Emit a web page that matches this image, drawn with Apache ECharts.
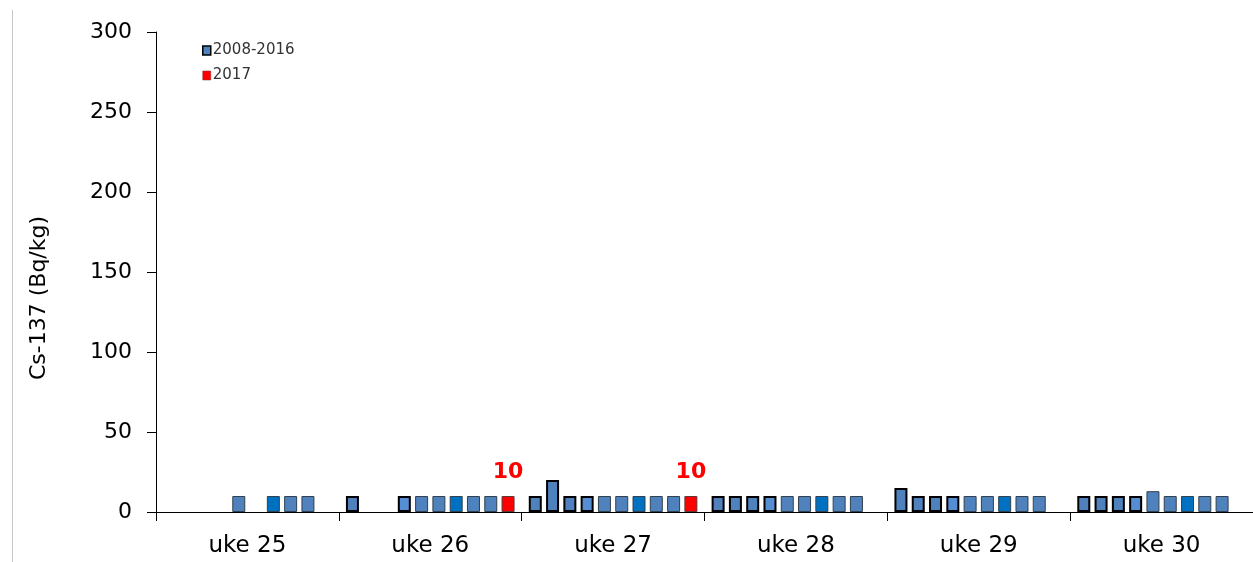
<!DOCTYPE html>
<html>
<head>
<meta charset="utf-8">
<script src="https://cdn.jsdelivr.net/npm/echarts@6/dist/echarts.min.js"></script>
<style>
html,body{margin:0;padding:0;background:#fff;}
#c{width:1253px;height:562px;}
</style>
</head>
<body>
<div id="c"></div>
<script>
const categories = ['uke 25', 'uke 26', 'uke 27', 'uke 28', 'uke 29', 'uke 30'];
const years = ['2008', '2009', '2010', '2011', '2012', '2013', '2014', '2015', '2016', '2017'];
const yTicks = [0, 50, 100, 150, 200, 250, 300];
const v2008 = [null, 10, 10, 10, 15, 10];
const v2009 = [null, null, 20, 10, 10, 10];
const v2010 = [null, null, 10, 10, 10, 10];
const v2011 = [null, 10, 10, 10, 10, 10];
const v2012 = [10, 10, 10, 10, 10, 13];
const v2013 = [null, 10, 10, 10, 10, 10];
const v2014 = [10, 10, 10, 10, 10, 10];
const v2015 = [10, 10, 10, 10, 10, 10];
const v2016 = [10, 10, 10, 10, 10, 10];
const v2017 = [null, 10, 10, null, null, null];
const legendNames = ['2008-2016', '2017'];
const yTitle = 'Cs-137 (Bq/kg)';

const values = [v2008, v2009, v2010, v2011, v2012, v2013, v2014, v2015, v2016, v2017];

const BLUE = '#4F81BD', LIGHT = '#558ED5', DARK = '#0070C0', RED = '#FF0000';
function styleFor(i) {
  if (i === 9) return { color: RED, borderColor: '#5a3a3a', borderWidth: 1 };
  if (i <= 3) return { color: i === 3 ? LIGHT : BLUE, borderColor: '#000', borderWidth: 2 };
  return { color: i === 6 ? DARK : BLUE, borderColor: '#33404d', borderWidth: 1 };
}

const series = values.map((arr, i) => ({
  name: i === 9 ? legendNames[1] : legendNames[0],
  type: 'bar',
  data: arr,
  barWidth: 13,
  barGap: '33%',
  itemStyle: styleFor(i),
  label: i === 9 ? {
    show: true, position: 'top', distance: 13,
    color: RED, fontWeight: 'bold', fontSize: 22, fontFamily: 'DejaVu Sans',
    formatter: p => String(Math.round(p.value))
  } : { show: false },
  silent: true,
  animation: false
}));

const chart = echarts.init(document.getElementById('c'));
chart.setOption({
  animation: false,
  backgroundColor: '#fff',
  grid: { left: 156, top: 32, width: 1103, height: 480, containLabel: false },
  legend: {
    orient: 'vertical', left: 197, top: 38,
    itemWidth: 8, itemHeight: 9, itemGap: 10,
    selectedMode: false,
    textStyle: { fontFamily: 'DejaVu Sans', fontSize: 15, color: '#333', padding: [0, 0, 0, -3] },
    data: [
      { name: legendNames[0], icon: 'rect', itemStyle: { color: BLUE, borderColor: '#000', borderWidth: 1.5 } },
      { name: legendNames[1], icon: 'rect', itemStyle: { color: RED, borderColor: '#7a3030', borderWidth: 0.5 } }
    ]
  },
  graphic: [{
    type: 'line', shape: { x1: 12.5, y1: 10, x2: 12.5, y2: 562 },
    style: { stroke: '#c8c8c8', lineWidth: 1 }, silent: true
  }, {
    type: 'text', x: 39, y: 298, rotation: Math.PI / 2,
    style: { text: yTitle, fontFamily: 'DejaVu Sans', fontSize: 22, fill: '#000', align: 'center', verticalAlign: 'middle' },
    silent: true
  }],
  xAxis: {
    type: 'category', data: categories,
    axisLine: { lineStyle: { color: '#000', width: 1 } },
    axisTick: { show: true, length: 9, lineStyle: { color: '#000' } },
    axisLabel: { fontFamily: 'DejaVu Sans', fontSize: 23, color: '#000', margin: 23 }
  },
  yAxis: {
    type: 'value', min: yTicks[0], max: yTicks[yTicks.length - 1], interval: 50,
    axisLine: { show: true, lineStyle: { color: '#000', width: 1 } },
    axisTick: { show: true, length: 9, lineStyle: { color: '#000' } },
    splitLine: { show: false },
    axisLabel: { fontFamily: 'DejaVu Sans', fontSize: 22, color: '#000', margin: 24 }
  },
  series: series
});
</script>
</body>
</html>
